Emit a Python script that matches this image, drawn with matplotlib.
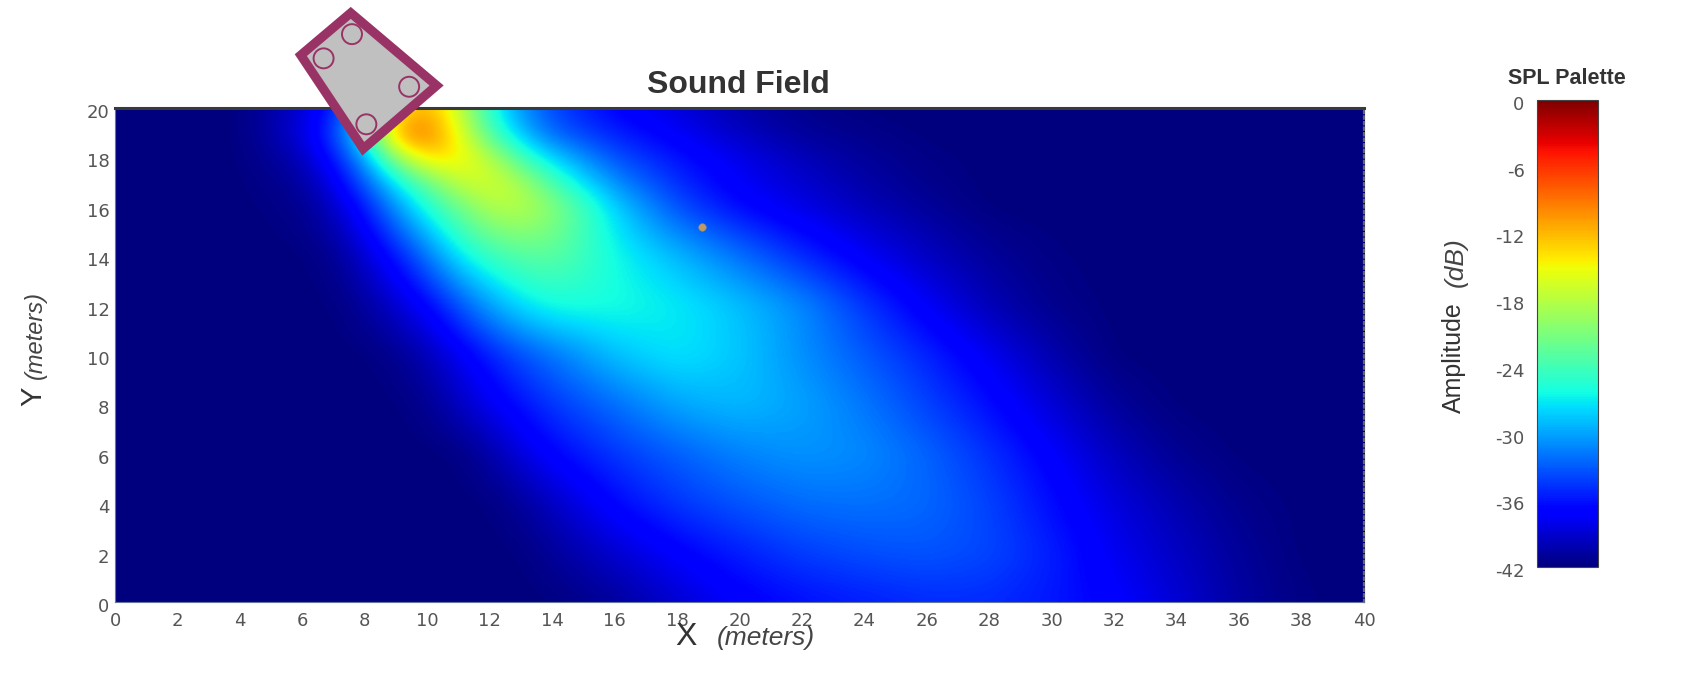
import matplotlib
matplotlib.use('Agg')
import matplotlib.pyplot as plt
import numpy as np
from matplotlib.cm import ScalarMappable
from matplotlib.colors import Normalize
from matplotlib.transforms import ScaledTranslation

plt.rcParams['font.family'] = ['Liberation Sans', 'DejaVu Sans']

W, H = 1685, 694

# field, dB
x_m = [0, 2, 4, 6, 7, 8, 9, 10, 11, 12, 13, 14, 16, 18, 20, 22, 24, 26, 28, 30, 32, 34, 36, 38, 40]
y_m = [0, 2, 4, 6, 8, 10, 12, 14, 16, 17, 18, 19, 20]

spl_y0 = [-42, -42, -42, -42, -42, -42, -42, -42, -42, -42, -42, -42, -41, -39, -37.2, -36.2, -35.6, -35, -35, -35.8, -37, -38.8, -40.7, -41.8, -42]
spl_y2 = [-42, -42, -42, -42, -42, -42, -42, -42, -42, -42, -42, -41, -39, -37, -35.5, -34.2, -33.5, -33.2, -33.8, -35.5, -37.8, -39.5, -41, -42, -42]
spl_y4 = [-42, -42, -42, -42, -42, -42, -42, -42, -42, -42, -41, -39.5, -36.5, -34.5, -33.2, -32.2, -32, -32.4, -34, -36.3, -38.5, -40.2, -41.5, -42, -42]
spl_y6 = [-42, -42, -42, -42, -42, -42, -42, -42, -42, -40.5, -38.5, -36.7, -34.5, -32.8, -31.3, -30.6, -31, -32.6, -34.8, -37.2, -39.7, -41.3, -42, -42, -42]
spl_y8 = [-42, -42, -42, -42, -42, -42, -42, -41.5, -39.5, -37.8, -36, -34.5, -32.2, -29.8, -29, -30, -31.8, -34, -36.3, -38.8, -41, -42, -42, -42, -42]
spl_y10 = [-42, -42, -42, -42, -42, -42, -41.5, -40, -37.8, -35.5, -33.5, -32, -28.7, -27.2, -28.5, -30.8, -33, -35.3, -37.8, -40.3, -42, -42, -42, -42, -42]
spl_y12 = [-42, -42, -42, -42, -42, -41, -39, -37, -33.5, -30, -27.5, -26, -26, -27, -28.7, -31, -34.5, -37.5, -40, -41.5, -42, -42, -42, -42, -42]
spl_y14 = [-42, -42, -42, -42, -41.5, -39, -36, -32, -27, -24.5, -23, -22.5, -26.3, -29, -32, -35, -37.5, -39.5, -41, -41.8, -42, -42, -42, -42, -42]
spl_y16 = [-42, -42, -42, -41.5, -39.5, -36, -30.5, -25.5, -22, -18, -17.5, -20, -28, -33.5, -36.5, -38.3, -39.8, -41, -42, -42, -42, -42, -42, -42, -42]
spl_y17 = [-42, -42, -42, -41, -38, -33, -27, -22.5, -17, -16, -18, -24, -31, -35, -37.5, -39, -40.5, -41.5, -42, -42, -42, -42, -42, -42, -42]
spl_y18 = [-42, -42, -42, -40, -36, -30.5, -20, -12.5, -14, -17, -24.5, -28, -33.5, -36, -38, -39.8, -41, -41.7, -42, -42, -42, -42, -42, -42, -42]
spl_y19 = [-42, -42, -42, -38.5, -34, -26, -7, -8, -15, -24.5, -29, -33, -35.5, -37.5, -39.5, -41, -41.5, -42, -42, -42, -42, -42, -42, -42, -42]
spl_y20 = [-42, -42, -42, -39, -36, -29, -14, -11, -17, -26, -31, -34, -37, -38.5, -40.5, -41.5, -42, -42, -42, -42, -42, -42, -42, -42, -42]

x_ticks = list(range(0, 41, 2))
y_ticks = list(range(0, 21, 2))
db_ticks = [0, -6, -12, -18, -24, -30, -36, -42]

# speaker outline and drivers, in meters
box_x = [7.55, 10.3, 7.95, 5.95]
box_y = [23.85, 20.91, 18.35, 22.14]
driver_x = [7.59, 6.68, 9.42, 8.05]
driver_y = [22.99, 22.01, 20.86, 19.34]
point_x = [18.8]
point_y = [15.2]

spl = np.array([spl_y0, spl_y2, spl_y4, spl_y6, spl_y8, spl_y10, spl_y12,
                spl_y14, spl_y16, spl_y17, spl_y18, spl_y19, spl_y20])


def px_box(left, top, right, bottom):
    return [left / W, 1 - bottom / H, (right - left) / W, (bottom - top) / H]


def soften(values, sigma):
    # the reference is a blurry screenshot, so blur along the last axis
    k = np.arange(-int(3 * sigma), int(3 * sigma) + 1)
    kernel = np.exp(-0.5 * (k / sigma) ** 2)
    kernel = kernel / kernel.sum()
    pad = len(k) // 2
    out = np.zeros_like(values)
    for i in range(values.shape[0]):
        row = np.pad(values[i], pad, mode='edge')
        out[i] = np.convolve(row, kernel, mode='valid')
    return out


# resample the read values on a fine even grid for imshow
fine_x = np.linspace(0, 40, 801)
fine_y = np.linspace(0, 20, 401)
by_x = np.array([np.interp(fine_x, x_m, row) for row in spl])
image = np.array([np.interp(fine_y, y_m, col) for col in by_x.T]).T
image = soften(image, 12)
image = soften(image.T, 10).T

fig = plt.figure(figsize=(W / 100, H / 100), dpi=100)
ax = fig.add_axes(px_box(115, 108, 1364, 602))

ax.imshow(image, extent=[0, 40, 0, 20], origin='lower', aspect='auto', cmap='jet',
          vmin=-42, vmax=0, interpolation='bilinear')
ax.set_xlim(0, 40)
ax.set_ylim(0, 20)

ax.set_xticks(x_ticks)
ax.set_yticks(y_ticks)
ax.tick_params(length=0, labelsize=13, labelcolor='#555555', pad=4)
ax.tick_params(axis='x', pad=7)
for lab in ax.get_xticklabels() + ax.get_yticklabels():
    lab.set_family('DejaVu Sans')
down = ScaledTranslation(0, -3 / 100, fig.dpi_scale_trans)
for lab in ax.get_yticklabels():
    lab.set_transform(lab.get_transform() + down)

ax.spines['top'].set_color('#3a3a3a')
ax.spines['top'].set_linewidth(2.2)
ax.spines['left'].set_color('#667799')
ax.spines['left'].set_linewidth(0.8)
ax.spines['bottom'].set_color('#667799')
ax.spines['bottom'].set_linewidth(0.8)
ax.spines['right'].set_color('#666666')
ax.spines['right'].set_linewidth(1.6)
ax.spines['right'].set_linestyle((0, (1, 1.5)))

ax.fill(box_x, box_y, facecolor='#c0c0c0', edgecolor='#993366', linewidth=6.6,
        joinstyle='miter', clip_on=False, zorder=5)
ax.scatter(driver_x, driver_y, s=207, facecolor='none', edgecolor='#993366', linewidth=1.4,
           clip_on=False, zorder=6)
ax.scatter(point_x, point_y, s=30, color='#c09a60', edgecolor='#888888', linewidth=0.4, zorder=4)

fig.text(738 / W, 1 - 85 / H, 'Sound Field', fontsize=23, fontweight='bold', color='#333333',
         ha='center', va='center')

# axis names are two sizes, so two texts each
fig.text(686 / W, 1 - 637 / H, 'X', fontsize=23, color='#333333', ha='center', va='center')
fig.text(766 / W, 1 - 638 / H, '(meters)', fontsize=19, style='italic', color='#444444', ha='center', va='center')
fig.text(33 / W, 1 - 396 / H, 'Y', fontsize=21, color='#333333', ha='center', va='center', rotation=90)
fig.text(35 / W, 1 - 335 / H, '(meters)', fontsize=17, style='italic', color='#444444', ha='center', va='center', rotation=90)

cax = fig.add_axes(px_box(1537, 100, 1598, 567))
cb = fig.colorbar(ScalarMappable(norm=Normalize(-42, 0), cmap='jet'), cax=cax)
cb.set_ticks(db_ticks)
cb.set_ticklabels(['0', '-6', '-12', '-18', '-24', '-30', '-36', '-42'])
cax.yaxis.set_ticks_position('left')
cax.tick_params(length=0, labelsize=13, labelcolor='#555555', pad=9)
for lab in cax.get_yticklabels():
    lab.set_family('DejaVu Sans')
    lab.set_transform(lab.get_transform() + down)
cb.outline.set_edgecolor('#444444')
cb.outline.set_linewidth(0.8)

fig.text(1567 / W, 1 - 78 / H, 'SPL Palette', fontsize=15.5, fontweight='bold', color='#333333',
         ha='center', va='center')
fig.text(1454 / W, 1 - 358 / H, 'Amplitude', fontsize=18, color='#333333', ha='center', va='center', rotation=90)
fig.text(1456 / W, 1 - 262 / H, '(dB)', fontsize=19, style='italic', color='#444444', ha='center', va='center', rotation=90)

plt.savefig('out.png', dpi=100)
